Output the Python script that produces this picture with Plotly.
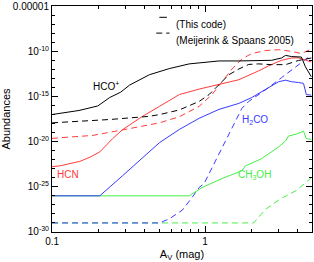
import math
import plotly.graph_objects as go

# ---------------- data ----------------
# HCO+ (this code)
hco_av = [0.100, 0.150, 0.199, 0.238, 0.281, 0.321, 0.432, 0.583, 0.787, 1.000, 1.233,
          1.663, 2.24, 2.72, 3.16, 3.36, 3.67, 4.07, 4.26, 4.53, 4.95]
hco_ab = [1.0e-17, 2.8e-17, 8.9e-17, 7.6e-16, 3.0e-15, 1.8e-14, 2.5e-13, 1.2e-12, 4.0e-12,
          6.6e-12, 8.5e-12, 8.5e-12, 8.5e-12, 1.0e-11, 1.8e-11, 3.5e-11, 2.6e-11, 2.3e-11,
          2.3e-11, 1.9e-12, 1.5e-13]
# HCO+ (Meijerink & Spaans 2005)
hco_ms_av = [0.100, 0.159, 0.238, 0.432, 0.503, 0.678, 0.914, 1.062, 1.233, 1.43, 1.663,
             1.93, 2.24, 2.72, 3.36, 4.07, 4.95]
hco_ms_ab = [1.2e-18, 1.8e-18, 2.8e-18, 6.3e-18, 9.8e-18, 3.2e-17, 2.8e-16, 1.6e-15,
             2.0e-14, 2.5e-13, 1.1e-12, 3.5e-12, 4.0e-12, 3.3e-12, 3.3e-12, 9.5e-12, 1.8e-11]
# HCN (this code)
hcn_av = [0.100, 0.113, 0.152, 0.177, 0.205, 0.249, 0.289, 0.390, 0.503, 0.678, 0.914, 1.233,
          1.663, 2.24, 2.60, 3.16, 3.67, 4.07, 4.53, 4.95]
hcn_ab = [1.7e-23, 2.1e-23, 6.6e-23, 1.9e-22, 7.2e-22, 2.2e-20, 2.1e-19, 6.3e-18, 7.9e-17,
          1.6e-15, 6.5e-15, 2.0e-14, 7.1e-14, 6.8e-13, 2.4e-12, 1.0e-11, 1.8e-11, 1.9e-11,
          1.0e-11, 6.6e-12]
# HCN (Meijerink & Spaans 2005)
hcn_ms_av = [0.100, 0.185, 0.307, 0.503, 0.678, 0.914, 1.11, 1.29, 1.50, 1.74, 2.02, 2.49,
             3.03, 3.67, 4.26, 4.95]
hcn_ms_ab = [2.3e-20, 4.9e-20, 2.4e-19, 1.2e-18, 5.6e-18, 7.9e-17, 1.6e-15, 4.3e-14,
             1.1e-12, 1.4e-11, 5.6e-11, 1.2e-10, 1.5e-10, 9.8e-11, 5.6e-11, 1.7e-10]
# H2CO (this code)
h2co_av = [0.100, 0.205, 0.289, 0.503, 0.678, 0.914, 1.233, 1.663, 2.02, 2.49, 3.03, 3.36,
           3.67, 4.07, 4.40, 4.59, 4.95]
h2co_ab = [1.0e-26, 1.0e-26, 1.7e-24, 7.6e-21, 2.2e-19, 3.8e-18, 3.7e-17, 1.7e-16, 7.6e-16,
           6.5e-15, 4.3e-14, 6.3e-14, 4.3e-14, 3.5e-14, 2.8e-14, 1.6e-15, 1.4e-15]
# H2CO (Meijerink & Spaans 2005)
h2co_ms_av = [0.100, 0.503, 0.583, 0.710, 0.824, 0.914, 0.986, 1.144, 1.475, 1.74, 1.93,
              2.49, 3.16, 4.07, 4.95]
h2co_ms_ab = [1.0e-29, 1.0e-29, 2.8e-29, 2.6e-28, 6.8e-27, 8.3e-26, 2.3e-25, 3.5e-23,
              1.4e-19, 4.8e-17, 2.8e-16, 5.6e-15, 1.2e-13, 3.1e-12, 3.8e-11]
# CH3OH (this code)
ch3oh_av = [0.100, 0.787, 0.956, 1.29, 1.74, 1.84, 2.34, 3.03, 3.36, 3.51, 3.95, 4.40,
            4.59, 4.95]
ch3oh_ab = [1.0e-26, 1.0e-26, 8.3e-26, 8.1e-25, 6.0e-24, 2.1e-23, 1.3e-22, 2.6e-21,
            1.2e-20, 4.1e-20, 6.8e-20, 1.4e-19, 2.2e-20, 1.7e-20]
# CH3OH (Meijerink & Spaans 2005)
ch3oh_ms_av = [0.100, 2.08, 2.24, 2.49, 3.07, 3.95, 4.95]
ch3oh_ms_ab = [1.0e-29, 1.0e-29, 4.4e-29, 3.3e-28, 4.1e-27, 3.9e-26, 1.0e-24]

x_tickvals = [0.1, 1]
x_ticktext = ["0.1", "1"]
x_minor = [0.2, 0.3, 0.4, 0.5, 0.6, 0.7, 0.8, 0.9, 2, 3, 4]
y_tickvals = [1e-30, 1e-25, 1e-20, 1e-15, 1e-10, 1e-5]
y_ticktext = ["10<sup>-30</sup>", "10<sup>-25</sup>", "10<sup>-20</sup>",
              "10<sup>-15</sup>", "10<sup>-10</sup>", "0.00001"]
y_minor = [10.0 ** e for e in range(-30, -4) if e % 5 != 0]

# ---------------- styles ----------------
BLACK = "#000000"
RED = "#ff3c3c"
BLUE = "#3a3aff"
GREEN = "#44ee44"
DASH = "6px,4px"
FONT = "Liberation Sans, Arial, sans-serif"

fig = go.Figure()

def add(x, y, color, dash=None):
    fig.add_trace(go.Scatter(x=x, y=y, mode="lines", showlegend=False, hoverinfo="skip",
                             line=dict(color=color, width=1, dash=dash)))

add(ch3oh_ms_av, ch3oh_ms_ab, GREEN, DASH)
add(h2co_ms_av, h2co_ms_ab, BLUE, DASH)
add(ch3oh_av, ch3oh_ab, GREEN)
add(h2co_av, h2co_ab, BLUE)
add(hcn_ms_av, hcn_ms_ab, RED, DASH)
add(hcn_av, hcn_ab, RED)
add(hco_ms_av, hco_ms_ab, BLACK, DASH)
add(hco_av, hco_ab, BLACK)

# curve labels
labels = [
    ("HCO<sup>+</sup>", 0.224, 1.55e-14, BLACK),
    ("HCN", 0.127, 2.2e-24, RED),
    ("H<sub>2</sub>CO", 2.11, 2.3e-18, BLUE),
    ("CH<sub>3</sub>OH", 2.11, 2.2e-24, GREEN),
]
for text, xv, yv, col in labels:
    fig.add_annotation(x=math.log10(xv), y=math.log10(yv),
                       xref="x", yref="y", text=text, showarrow=False,
                       font=dict(color=col, size=10, family=FONT))

# legend (line samples + text)
fig.add_shape(type="line", xref="paper", yref="paper", x0=0.413, x1=0.442, y0=0.950, y1=0.950,
              line=dict(color=BLACK, width=1))
fig.add_shape(type="line", xref="paper", yref="paper", x0=0.401, x1=0.452, y0=0.880, y1=0.880,
              line=dict(color=BLACK, width=1, dash=DASH))
fig.add_annotation(xref="paper", yref="paper", x=0.470, y=0.950, xanchor="left",
                   text="(This code)", showarrow=False,
                   font=dict(color=BLACK, size=10, family=FONT))
fig.add_annotation(xref="paper", yref="paper", x=0.470, y=0.880, xanchor="left",
                   text="(Meijerink &amp; Spaans 2005)", showarrow=False,
                   font=dict(color=BLACK, size=10, family=FONT))

axis_common = dict(showline=True, linecolor=BLACK, linewidth=1, mirror="allticks",
                   ticks="inside", ticklen=6, tickcolor=BLACK, showgrid=False,
                   zeroline=False, ticklabeloverflow="allow",
                   tickfont=dict(size=10, color=BLACK, family=FONT))

fig.update_xaxes(type="log", range=[-1.0005, 0.69897], tickmode="array",
                 tickvals=x_tickvals, ticktext=x_ticktext,
                 minor=dict(tickmode="array", tickvals=x_minor, ticks="inside",
                            ticklen=3, tickcolor=BLACK, showgrid=False),
                 title=dict(text="A<sub>V</sub> (mag)", font=dict(size=11, family=FONT),
                            standoff=4),
                 **axis_common)
fig.update_yaxes(type="log", range=[-30.002, -4.99], tickmode="array",
                 tickvals=y_tickvals, ticktext=y_ticktext,
                 minor=dict(tickmode="array", tickvals=y_minor, ticks="inside",
                            ticklen=3, tickcolor=BLACK, showgrid=False),
                 title=dict(text="Abundances", font=dict(size=11, family=FONT),
                            standoff=2),
                 **axis_common)

fig.update_layout(width=314, height=262, margin=dict(l=52, r=1, t=4, b=30),
                  plot_bgcolor="white", paper_bgcolor="white",
                  font=dict(family=FONT, color=BLACK), showlegend=False,
                  hovermode=False)

fig.write_html("out.html", config={"displayModeBar": False},
               post_script="document.body.style.margin='0';")
